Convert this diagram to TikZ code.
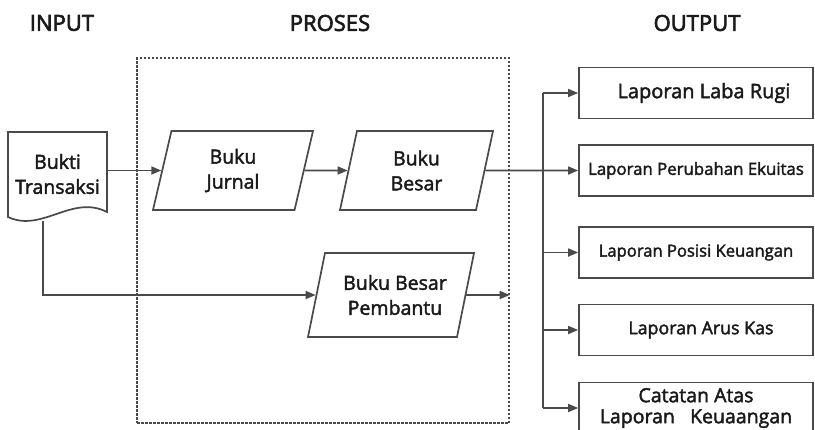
\documentclass[tikz,border=0pt]{standalone}
\usepackage{fontspec}
\setmainfont{Open Sans}[FakeBold=2.2]
\newfontfamily\titlefont{Open Sans}[FakeBold=3]
\usetikzlibrary{shapes.geometric,arrows.meta}
\definecolor{ln}{HTML}{4A4A4A}
\definecolor{tx}{HTML}{1A1A1A}
\begin{document}
\begin{tikzpicture}[x=1pt,y=-1pt,
  every node/.style={text=tx},
  conn/.style={draw=ln, line width=1.7pt},
  arr/.style={conn, -{Triangle[length=10pt,width=8pt]}},
  para/.style={trapezium, trapezium left angle=67, trapezium right angle=113,
    trapezium stretches body, draw=ln, line width=1.7pt, align=center,
    inner sep=0pt, font=\fontsize{19.5}{25}\selectfont},
  outbox/.style={draw=ln, line width=1.7pt, minimum width=234pt,
    minimum height=51pt, inner sep=0pt, align=center},
  title/.style={font=\titlefont\fontsize{22}{24}\selectfont},
  frame/.style={draw=ln, line width=1.4pt, dash pattern=on 2.5pt off 1.5pt}]
\useasboundingbox (0,0) rectangle (815,429);
\clip (0,0) rectangle (815,429);

% titles
\node[title] (tin) at (62,23) {INPUT};
\node[title] (tpr) at (330,23) {PROSES};
\node[title] (tout) at (697,23) {OUTPUT};

% process frame
\node[frame, minimum width=372pt, minimum height=365pt, inner sep=0pt] (frame) at (323,240.5) {};

% input document
\draw[conn, fill=white] (8,132) -- (107,132) -- (107,212)
  .. controls (72,194) and (42,233) .. (8,217) -- cycle;
\node[align=center, inner sep=0pt, minimum width=99pt, font=\fontsize{19.5}{25}\selectfont] (bukti) at (57.5,174) {Bukti\\Transaksi};
\coordinate (bd) at (43,221);

% process nodes
\node[para, minimum width=160pt, minimum height=79pt] (jurnal) at (233,170.5) {Buku\\Jurnal};
\node[para, minimum width=153pt, minimum height=79pt] (besar) at (416.5,170.5) {Buku\\Besar};
\node[para, minimum width=166pt, minimum height=84pt] (pemb) at (391,295) {\hspace{8pt}Buku Besar\\\hspace{8pt}Pembantu};

% output boxes
\node[outbox, font=\fontsize{20}{22}\selectfont] (b1) at (696,93) {\hspace{16pt}Laporan Laba Rugi};
\node[outbox, font=\fontsize{16.8}{20}\selectfont] (b2) at (696,170.5) {Laporan Perubahan Ekuitas};
\node[outbox, font=\fontsize{16.6}{20}\selectfont] (b3) at (696,252.5) {Laporan Posisi Keuangan};
\node[outbox, font=\fontsize{17.8}{20}\selectfont] (b4) at (696,330) {\hspace{10pt}Laporan Arus Kas};
\node[outbox, font=\fontsize{19.5}{21}\selectfont] (b5) at (696,408) {Catatan Atas\\Laporan\ \ \ Keuaangan};

% connectors
\draw[arr] (bukti.east |- jurnal.west) -- (jurnal.west);
\draw[arr] (jurnal.east) -- (besar.west);
\draw[arr] (bd) |- (pemb.west);
\draw[arr] (pemb.east) -- (pemb.east -| frame.east);

\coordinate (sp1) at (543,93);
\coordinate (sp2) at (543,408);
\draw[conn] (sp1) -- (sp2);
\draw[arr] (besar.east) -- (b2.west);
\draw[arr] (b1.west -| sp1) -- (b1.west);
\draw[arr] (b3.west -| sp1) -- (b3.west);
\draw[arr] (b4.west -| sp1) -- (b4.west);
\draw[arr] (b5.west -| sp1) -- (b5.west);
\end{tikzpicture}
\end{document}
